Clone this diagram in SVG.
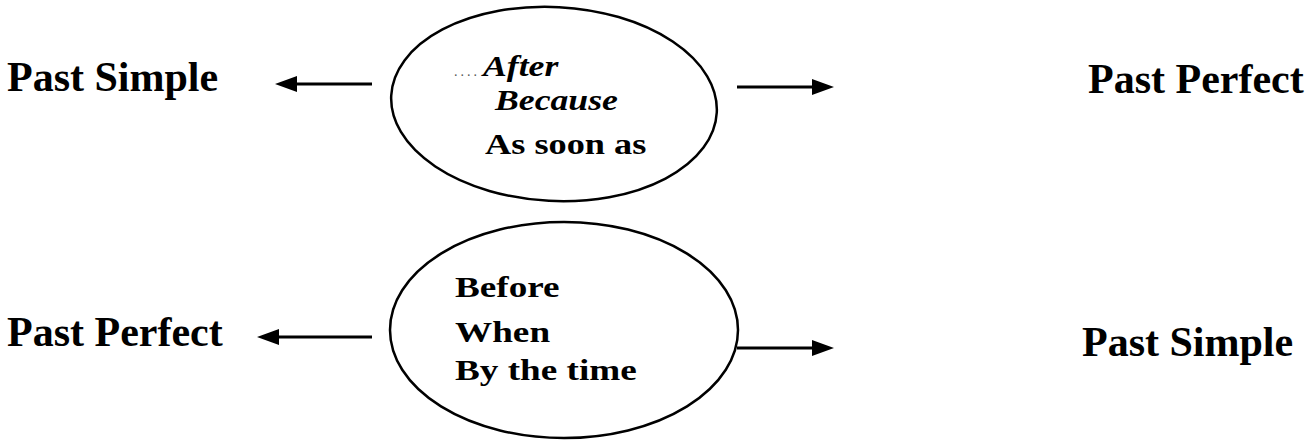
<svg xmlns="http://www.w3.org/2000/svg" width="1315" height="441" viewBox="0 0 1315 441">
  <style>
    .lbl { font-family: "Liberation Serif", "Times New Roman", serif; font-weight: bold; font-size: 42px; fill: #000; }
    .in { font-family: "Liberation Serif", "Times New Roman", serif; font-weight: bold; font-size: 30px; fill: #000; }
    .it { font-style: italic; }
    .oval { fill: none; stroke: #000; stroke-width: 2.5; }
    .conn { stroke: #000; stroke-width: 3; fill: none; marker-end: url(#ah); }
  </style>
  <defs>
    <marker id="ah" markerUnits="userSpaceOnUse" markerWidth="22" markerHeight="16" refX="9" refY="8" orient="auto">
      <path d="M0,0 L22,8 L0,16 z" fill="#000"/>
    </marker>
  </defs>
  <rect width="1315" height="441" fill="#fff"/>

  <g id="top-left-label"><text class="lbl" x="7" y="91">Past Simple</text></g>
  <g id="top-right-label"><text class="lbl" x="1088" y="93">Past Perfect</text></g>
  <g id="bottom-left-label"><text class="lbl" x="7" y="346">Past Perfect</text></g>
  <g id="bottom-right-label"><text class="lbl" x="1082" y="356">Past Simple</text></g>

  <g id="top-oval">
    <ellipse class="oval" cx="554" cy="104" rx="163" ry="97" transform="rotate(3 554 104)"/>
    <text font-family="Liberation Serif, serif" font-size="14" letter-spacing="3" fill="#555" x="454" y="76">....</text>
    <text class="in it" transform="translate(483 76) scale(1.19 1)">After</text>
    <text class="in it" transform="translate(495 110) scale(1.19 1)">Because</text>
    <text class="in" transform="translate(485 154) scale(1.21 1)">As soon as</text>
  </g>

  <g id="bottom-oval">
    <ellipse class="oval" cx="564" cy="330" rx="174" ry="108"/>
    <text class="in" transform="translate(455 297) scale(1.24 1)">Before</text>
    <text class="in" transform="translate(455 342) scale(1.24 1)">When</text>
    <text class="in" transform="translate(455 380) scale(1.24 1)">By the time</text>
  </g>

  <g id="connectors">
    <line class="conn" x1="372" y1="84" x2="288" y2="84"/>
    <line class="conn" x1="737" y1="87" x2="821" y2="87"/>
    <line class="conn" x1="372" y1="337" x2="270" y2="337"/>
    <line class="conn" x1="737" y1="348" x2="821" y2="348"/>
  </g>
</svg>
